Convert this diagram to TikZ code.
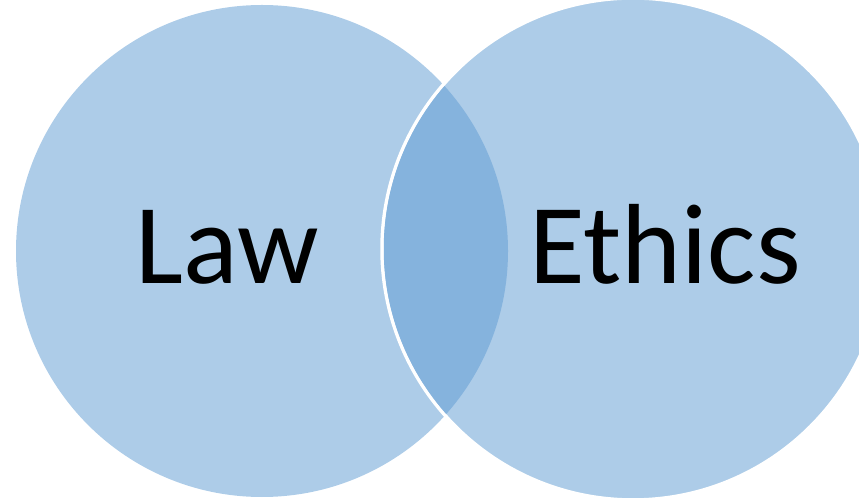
\documentclass[tikz,border=0pt]{standalone}
\usepackage{fontspec}
\setmainfont{Carlito}
\definecolor{lightfill}{RGB}{173,204,232}
\definecolor{darkfill}{RGB}{133,179,221}
\begin{document}
\begin{tikzpicture}[x=1pt,y=1pt,
  setcircle/.style={fill=lightfill},
  setlabel/.style={font=\fontsize{114}{114}\selectfont, anchor=base, inner sep=0pt, text=black}]
\useasboundingbox (0,0) rectangle (859,498);
\clip (0,0) rectangle (859,498);
\coordinate (lc) at (262,247);
\coordinate (rc) at (633,249);
\fill[lightfill] (lc) circle[radius=246];
\draw[setcircle, draw=white, line width=3.5] (rc) circle[radius=251];
\begin{scope}
  \clip (lc) circle[radius=246];
  \fill[darkfill] (rc) circle[radius=249.25];
\end{scope}
\node[setlabel] (law) at (227,214) {Law};
\node[setlabel] (ethics) at (665,214) {Ethics};
\end{tikzpicture}
\end{document}
